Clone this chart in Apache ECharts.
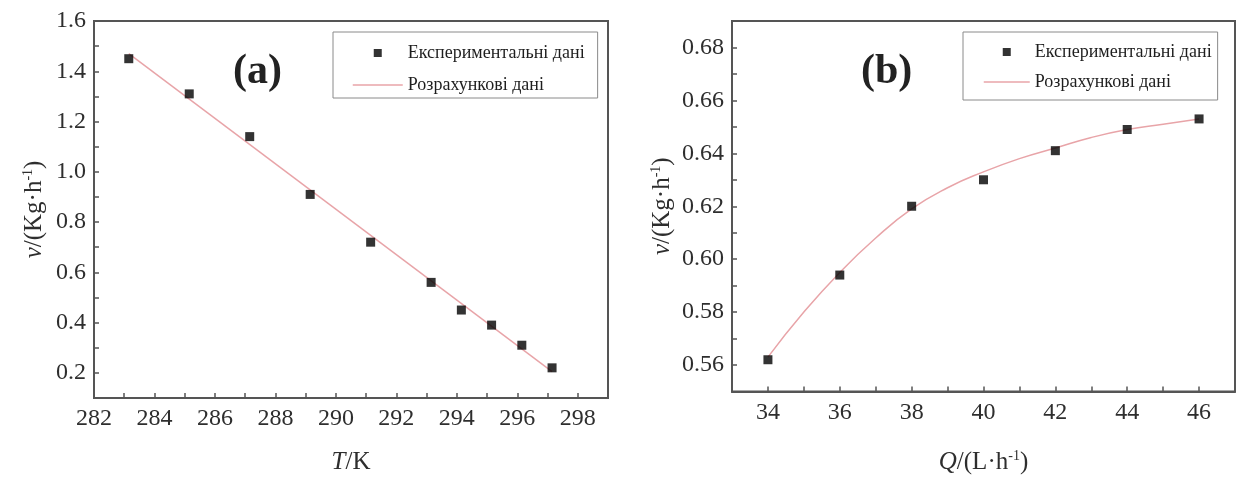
<!DOCTYPE html>
<html>
<head>
<meta charset="utf-8">
<script src="https://cdn.jsdelivr.net/npm/echarts@6/dist/echarts.min.js"></script>
<style>
html,body{margin:0;padding:0;background:#fff;}
#c{width:1240px;height:480px;}
</style>
</head>
<body>
<div id="c"></div>
<script>
// ---- Data ----
var legendNames = ['Експериментальні дані', 'Розрахункові дані'];

// Panel (a): v vs T
var tempK = [283.15, 285.15, 287.15, 289.15, 291.15, 293.15, 294.15, 295.15, 296.15, 297.15];
var rateA = [1.45, 1.31, 1.14, 0.91, 0.72, 0.56, 0.45, 0.39, 0.31, 0.22];
var fitTempK = [283.15, 297.15];
var fitRateA = [1.47, 0.205];

// Panel (b): v vs Q
var flowQ = [34, 36, 38, 40, 42, 44, 46];
var rateB = [0.562, 0.594, 0.620, 0.630, 0.641, 0.649, 0.653];
var fitFlowQ = [34, 35, 36, 37, 38, 39, 40, 41, 42, 43, 44, 45, 46];
var fitRateB = [0.563, 0.580, 0.595, 0.608, 0.619, 0.627, 0.633, 0.638, 0.642, 0.646, 0.649, 0.651, 0.653];

function pairs(xs, ys) { return xs.map(function (x, i) { return [x, ys[i]]; }); }

var FONT = 'Liberation Serif';
var AX = '#555';
var TXT = '#2e2e2e';
var FITC = '#e8a4a8';

function xAxisCfg(gi, min, max, nameRich) {
  return {
    type: 'value', gridIndex: gi, min: min, max: max, interval: 1,
    axisLine: { show: true, lineStyle: { color: AX, width: 2 } },
    axisTick: { show: true, inside: true, length: 5, lineStyle: { color: AX, width: 1.5 } },
    axisLabel: {
      margin: 9, color: TXT, fontFamily: FONT, fontSize: 24,
      formatter: function (v) { return Math.round(v) % 2 === 0 ? String(Math.round(v)) : ''; }
    },
    splitLine: { show: false },
    name: nameRich.text, nameLocation: 'middle', nameGap: nameRich.gap,
    nameTextStyle: { color: TXT, fontFamily: FONT, fontSize: 25, rich: nameRich.rich }
  };
}

function yAxisCfg(gi, min, max, step, dec, nameGap) {
  return {
    type: 'value', gridIndex: gi, min: min, max: max, interval: step,
    axisLine: { show: true, lineStyle: { color: AX, width: 2 } },
    axisTick: { show: true, inside: true, length: 5, lineStyle: { color: AX, width: 1.5 } },
    axisLabel: {
      margin: 8, color: TXT, fontFamily: FONT, fontSize: 24,
      formatter: function (v) {
        var k = Math.round(v / step);
        return k % 2 === 0 ? v.toFixed(dec) : '';
      }
    },
    splitLine: { show: false },
    name: '{i|v}/(Kg·h{s|-1})', nameLocation: 'middle', nameGap: nameGap,
    nameTextStyle: {
      color: TXT, fontFamily: FONT, fontSize: 25,
      rich: {
        i: { fontStyle: 'italic', fontFamily: FONT, fontSize: 25, color: TXT },
        s: { fontFamily: FONT, fontSize: 14, color: TXT, verticalAlign: 'top', lineHeight: 26 }
      }
    }
  };
}

var SQUARE = 'path://M0,0L10,0L10,10L0,10Z';

function legendCfg(extra) {
  return Object.assign({
    orient: 'vertical', itemWidth: 50, itemHeight: 8, itemGap: 14,
    backgroundColor: '#fff', borderColor: '#8a8a8a', borderWidth: 1,
    symbolKeepAspect: true,
    textStyle: { fontFamily: FONT, fontSize: 18, color: '#1e1e1e' },
    data: [
      { name: legendNames[0], icon: SQUARE, itemStyle: { color: '#000' } },
      { name: legendNames[1], itemStyle: { opacity: 0 }, lineStyle: { color: FITC, width: 1.5 } }
    ],
    selectedMode: false
  }, extra);
}

var option = {
  animation: false,
  backgroundColor: '#fff',
  title: [
    { text: '(a)', left: 233, top: 51, padding: 0, textStyle: { fontFamily: FONT, fontWeight: 'bold', fontSize: 42, color: '#222' } },
    { text: '(b)', left: 861, top: 51, padding: 0, textStyle: { fontFamily: FONT, fontWeight: 'bold', fontSize: 42, color: '#222' } }
  ],
  legend: [
    legendCfg({ left: 333, top: 32, padding: [12, 13, 4, 19] }),
    legendCfg({ left: 963, top: 32, itemWidth: 46, itemGap: 12, padding: [11, 6, 9, 20] })
  ],
  grid: [
    { left: 94, top: 21, width: 514, height: 380, show: true, borderColor: AX, borderWidth: 2, backgroundColor: '#fff' },
    { left: 732, top: 21, width: 503, height: 372, show: true, borderColor: AX, borderWidth: 2, backgroundColor: '#fff' }
  ],
  xAxis: [
    xAxisCfg(0, 282, 299, { text: '{i|T}/K', gap: 52, rich: { i: { fontStyle: 'italic', fontFamily: FONT, fontSize: 25, color: TXT } } }),
    xAxisCfg(1, 33, 47, { text: '{i|Q}/(L·h{s|-1})', gap: 58, rich: {
      i: { fontStyle: 'italic', fontFamily: FONT, fontSize: 25, color: TXT },
      s: { fontFamily: FONT, fontSize: 14, color: TXT, verticalAlign: 'top', lineHeight: 26 }
    } })
  ],
  yAxis: [
    yAxisCfg(0, 0.1, 1.6, 0.1, 1, 47),
    yAxisCfg(1, 0.55, 0.69, 0.01, 2, 57)
  ],
  series: [
    { name: legendNames[1], type: 'line', xAxisIndex: 0, yAxisIndex: 0, data: pairs(fitTempK, fitRateA),
      symbol: 'none', lineStyle: { color: FITC, width: 1.5 }, itemStyle: { color: FITC }, z: 2 },
    { name: legendNames[0], type: 'scatter', xAxisIndex: 0, yAxisIndex: 0, data: pairs(tempK, rateA),
      symbol: 'rect', symbolSize: 9, itemStyle: { color: '#000' }, z: 3 },
    { name: legendNames[1], type: 'line', xAxisIndex: 1, yAxisIndex: 1, data: pairs(fitFlowQ, fitRateB),
      smooth: true, symbol: 'none', lineStyle: { color: FITC, width: 1.5 }, itemStyle: { color: FITC }, z: 2 },
    { name: legendNames[0], type: 'scatter', xAxisIndex: 1, yAxisIndex: 1, data: pairs(flowQ, rateB),
      symbol: 'rect', symbolSize: 9, itemStyle: { color: '#000' }, z: 3 }
  ]
};

var chart = echarts.init(document.getElementById('c'), null, { renderer: 'canvas' });
chart.setOption(option);
</script>
</body>
</html>
